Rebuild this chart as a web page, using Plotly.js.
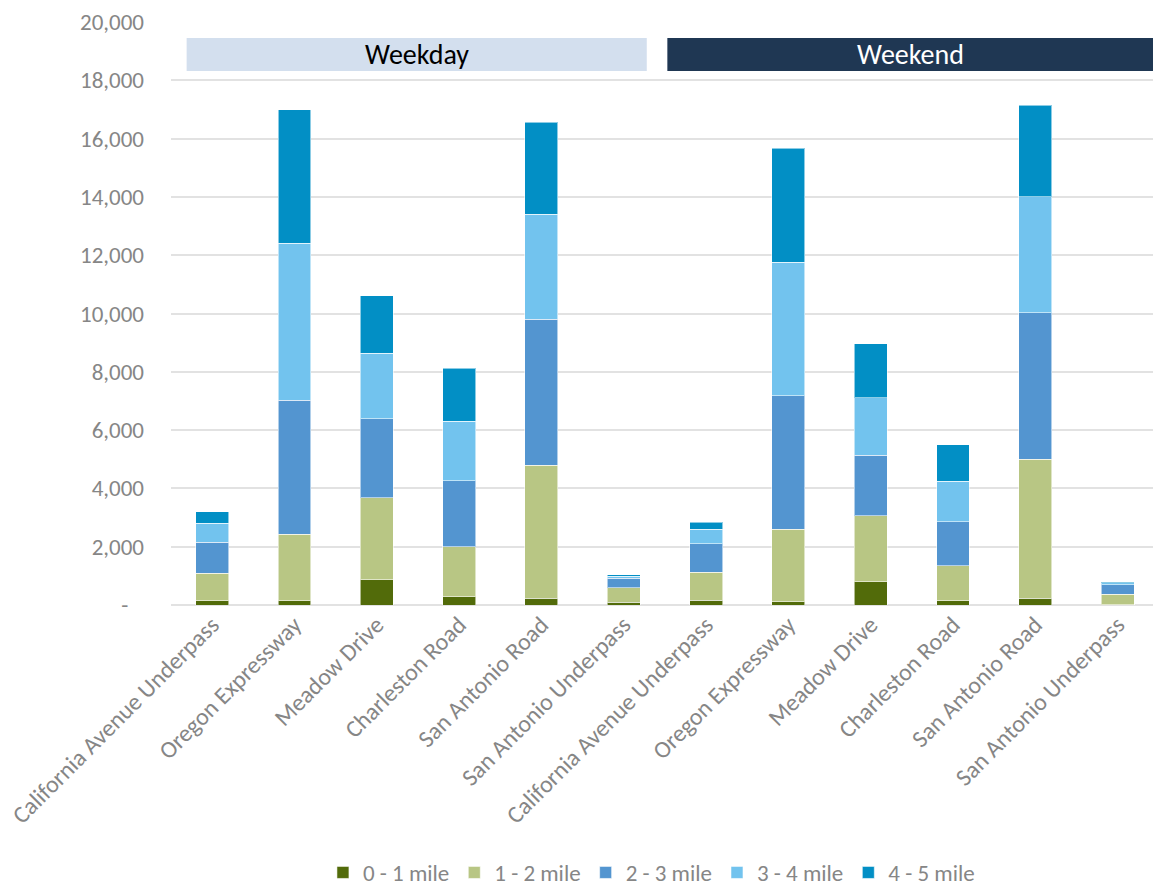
<!DOCTYPE html>
<html>
<head>
<meta charset="utf-8">
<script src="https://cdn.plot.ly/plotly-3.0.1.min.js"></script>
<style>
  html, body { margin: 0; padding: 0; background: #fff; }
  #chart { width: 1153px; height: 894px; }
</style>
</head>
<body>
<div id="chart"></div>
<script>
// Trail counts by distance band, weekday locations first then weekend
var locations = [
  'California Avenue Underpass', 'Oregon Expressway', 'Meadow Drive',
  'Charleston Road', 'San Antonio Road', 'San Antonio Underpass',
  'California Avenue Underpass', 'Oregon Expressway', 'Meadow Drive',
  'Charleston Road', 'San Antonio Road', 'San Antonio Underpass'
];
var bandNames = ['0 - 1 mile', '1 - 2 mile', '2 - 3 mile', '3 - 4 mile', '4 - 5 mile'];
var mile0to1 = [140, 150, 860, 285, 240, 95, 160, 115, 800, 150, 240, 15];
var mile1to2 = [956, 2270, 2820, 1715, 4560, 505, 960, 2480, 2255, 1190, 4760, 350];
var mile2to3 = [1062, 4610, 2710, 2265, 5005, 315, 980, 4585, 2090, 1520, 5034, 330];
var mile3to4 = [650, 5380, 2250, 2045, 3605, 80, 495, 4570, 1965, 1385, 3966, 60];
var mile4to5 = [387, 4580, 1965, 1820, 3150, 35, 250, 3920, 1855, 1255, 3140, 35];

var dayGroups = ['Weekday', 'Weekend'];
var groupFirst = [0, 6];
var groupLast = [5, 11];

var yTicks = [0, 2000, 4000, 6000, 8000, 10000, 12000, 14000, 16000, 18000, 20000];

var bandColors = ['#526b0a', '#b8c684', '#5395d0', '#72c3ee', '#028fc5'];
var bannerFill = ['#d3dfee', '#1f3753'];
var bannerText = ['#000000', '#ffffff'];

var fontFam = 'Carlito, Calibri, Lato, sans-serif';
var grey = '#868686';

var xIdx = locations.map(function(_, i) { return i; });
var series = [mile0to1, mile1to2, mile2to3, mile3to4, mile4to5];

var traces = series.map(function(vals, k) {
  return {
    type: 'bar',
    x: xIdx,
    y: vals,
    name: bandNames[k],
    width: 0.4,
    marker: {color: bandColors[k], line: {color: 'rgba(255,255,255,0.55)', width: 1}},
    hovertemplate: '%{y:,}<extra>' + bandNames[k] + '</extra>'
  };
});

var yText = yTicks.map(function(v) {
  return v === 0 ? '-\u00a0\u00a0\u00a0' : v.toLocaleString('en-US');
});

// banners sit just under the top gridline
var bannerLeft = [groupFirst[0] - 0.31, groupFirst[1] - 0.47];
var bannerRight = [groupLast[0] + 0.28, groupLast[1] + 0.6];
var shapes = [];
var annotations = [];
dayGroups.forEach(function(g, i) {
  shapes.push({
    type: 'rect', xref: 'x', yref: 'y',
    x0: bannerLeft[i], x1: bannerRight[i], y0: 18320, y1: 19450,
    fillcolor: bannerFill[i], line: {width: 0}, layer: 'above'
  });
  annotations.push({
    xref: 'x', yref: 'y',
    x: (bannerLeft[i] + Math.min(bannerRight[i], 11.43)) / 2, y: 18885,
    text: g, showarrow: false,
    font: {family: fontFam, size: 28, color: bannerText[i]}
  });
});

var layout = {
  width: 1153,
  height: 894,
  margin: {l: 171, r: 0, t: 22, b: 289},
  paper_bgcolor: 'white',
  plot_bgcolor: 'white',
  barmode: 'stack',
  showlegend: true,
  font: {family: fontFam, color: grey},
  xaxis: {
    range: [-0.5, 11.43],
    tickvals: xIdx,
    ticktext: locations,
    tickangle: -45,
    tickfont: {family: fontFam, size: 24, color: grey},
    showgrid: false,
    zeroline: false,
    showline: false,
    ticks: '',
    automargin: false
  },
  yaxis: {
    range: [0, 20000],
    tickvals: yTicks,
    ticktext: yText,
    tickfont: {family: fontFam, size: 23, color: grey},
    showgrid: true,
    gridcolor: '#e2e2e2',
    gridwidth: 2,
    zeroline: true,
    zerolinecolor: '#e2e2e2',
    zerolinewidth: 2,
    showline: false,
    ticks: '',
    ticklabelstandoff: 26,
    automargin: false
  },
  legend: {
    orientation: 'h',
    xref: 'container', yref: 'container',
    x: 0.565, xanchor: 'center',
    y: 0, yanchor: 'bottom',
    font: {family: fontFam, size: 23, color: grey},
    traceorder: 'normal'
  },
  shapes: shapes,
  annotations: annotations
};

Plotly.newPlot('chart', traces, layout, {displayModeBar: false, staticPlot: true});
</script>
</body>
</html>
